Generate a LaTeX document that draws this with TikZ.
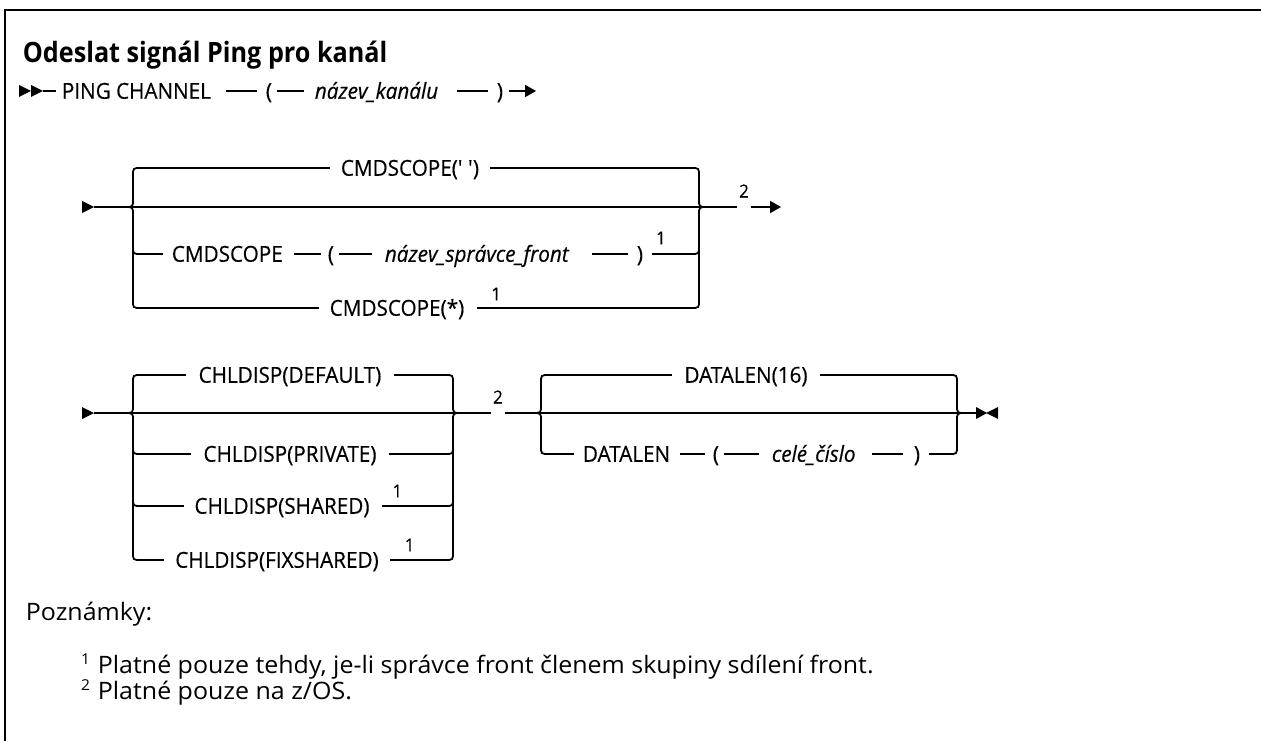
\documentclass[tikz,border=0pt]{standalone}
\usepackage{fontspec}
\setmainfont{Open Sans}
\newfontfamily\cond{Open Sans}[FakeStretch=0.94,FakeBold=0.4]
\newfontfamily\ttl{Open Sans}[FakeStretch=0.9]
\newfontfamily\nte{Open Sans}[FakeStretch=1.04]
\usetikzlibrary{arrows.meta}
\newcommand\rrL[4]{% x, ytop, ymain, ybottom
  \draw (#1-8,#3) .. controls (#1,#3) .. (#1,#3-8) -- (#1,#2+8) .. controls (#1,#2) .. (#1+8,#2);
  \draw (#1-8,#3) .. controls (#1,#3) .. (#1,#3+8) -- (#1,#4-8) .. controls (#1,#4) .. (#1+8,#4);}
\newcommand\rrR[4]{%
  \draw (#1-8,#2) .. controls (#1,#2) .. (#1,#2+8) -- (#1,#3-8) .. controls (#1,#3) .. (#1+8,#3);
  \draw (#1+8,#3) .. controls (#1,#3) .. (#1,#3+8) -- (#1,#4-8) .. controls (#1,#4) .. (#1-8,#4);}
\newcommand\rrLm[2]{\draw (#1,#2-8) .. controls (#1,#2) .. (#1+8,#2);}
\newcommand\rrRm[2]{\draw (#1-8,#2) .. controls (#1,#2) .. (#1,#2-8);}
\begin{document}
\begin{tikzpicture}[x=1pt,y=-1pt,line width=1.8pt,
  kw/.style={font=\cond\fontsize{22}{22}\selectfont,inner sep=0pt,text height=15.5pt,text depth=0pt},
  var/.style={kw,font=\cond\itshape\fontsize{22}{22}\selectfont},
  sup/.style={font=\cond\fontsize{18}{18}\selectfont,inner sep=0pt},
  tip/.style={-{Triangle[length=11pt,width=12pt]}},
  note/.style={font=\nte\fontsize{24}{25}\selectfont,inner sep=0pt,anchor=base west},
  nsup/.style={font=\nte\fontsize{15}{15}\selectfont,inner sep=0pt,anchor=base east}]
\useasboundingbox (0,0) rectangle (1261,741);
% frame
\draw[line width=2.4pt] (5,741) -- (5,10) -- (1261,10);
% title
\node[anchor=base west,inner sep=0pt,font=\ttl\bfseries\fontsize{28}{28}\selectfont] (title) at (22,63) {Odeslat signál Ping pro kanál};
% ---- row 1
\fill (19,85) -- (31,91) -- (19,97) -- cycle;
\fill (31,85) -- (43,91) -- (31,97) -- cycle;
\coordinate (s1) at (43,91);
\node[kw,anchor=west] (pc) at (61,91) {PING CHANNEL};
\node[kw,anchor=west] (lp1) at (265,91) {(};
\node[var,anchor=west] (v1) at (314,91) {název\_kanálu};
\node[kw,anchor=west] (rp1) at (496,91) {)};
\coordinate (e1) at (536,91);
\draw (s1) -- ([xshift=-5pt]pc.west);
\draw ([xshift=14pt]pc.east) -- ([xshift=-8pt]lp1.west);
\draw ([xshift=4pt]lp1.east) -- ([xshift=-10pt]v1.west);
\draw ([xshift=18pt]v1.east) -- ([xshift=-8pt]rp1.west);
\draw[tip] ([xshift=5pt]rp1.east) -- (e1);
% ---- CMDSCOPE group
\fill (82,201) -- (94,207) -- (82,213) -- cycle;
\coordinate (s2) at (94,207);
\coordinate (j2) at (707,207);
\draw (s2) -- (j2);
\rrL{133}{168}{207}{308}
\rrLm{133}{254}
\rrR{699}{168}{207}{308}
\rrRm{699}{254}
\node[kw] (c1) at (410,168) {CMDSCOPE(\textquotesingle{} \textquotesingle)};
\draw (141,168) -- ([xshift=-10pt]c1.west);
\draw ([xshift=10pt]c1.east) -- (691,168);
\node[kw,anchor=west] (c2) at (171,254) {CMDSCOPE};
\node[kw,anchor=west] (lp2) at (327,254) {(};
\node[var,anchor=west] (v2) at (384,254) {název\_správce\_front};
\node[kw,anchor=west] (rp2) at (636,254) {)};
\node[sup] (f2) at (661,238) {1};
\draw (141,254) -- ([xshift=-8pt]c2.west);
\draw ([xshift=10pt]c2.east) -- ([xshift=-6pt]lp2.west);
\draw ([xshift=4pt]lp2.east) -- ([xshift=-12pt]v2.west);
\draw ([xshift=22pt]v2.east) -- ([xshift=-8pt]rp2.west);
\draw ([xshift=8pt]rp2.east) -- (691,254);
\node[kw] (c3) at (397,308) {CMDSCOPE(*)};
\node[sup] (f3) at ([xshift=31pt,yshift=14pt]c3.east) {1};
\draw (141,308) -- ([xshift=-10pt]c3.west);
\draw ([xshift=12pt]c3.east) -- (691,308);
\node[sup] (g2) at (744,191) {2};
\coordinate (e2) at (781,207);
\draw (j2) -- ([xshift=-1pt]g2.west |- j2);
\draw[tip] ([xshift=1pt]g2.east |- j2) -- (e2);
% ---- CHLDISP group
\fill (82,407) -- (94,413) -- (82,419) -- cycle;
\coordinate (s3) at (94,413);
\coordinate (j3) at (461,413);
\draw (s3) -- (j3);
\rrL{133}{375}{413}{560}
\rrLm{133}{454}
\rrLm{133}{506}
\rrR{453}{375}{413}{560}
\rrRm{453}{454}
\rrRm{453}{506}
\node[kw] (d1) at (290,375) {CHLDISP(DEFAULT)};
\draw (141,375) -- ([xshift=-12pt]d1.west);
\draw ([xshift=12pt]d1.east) -- (445,375);
\node[kw] (d2) at (290,454) {CHLDISP(PRIVATE)};
\draw (141,454) -- ([xshift=-12pt]d2.west);
\draw ([xshift=12pt]d2.east) -- (445,454);
\node[kw] (d3) at (282,506) {CHLDISP(SHARED)};
\node[sup] (f4) at ([xshift=27pt,yshift=15pt]d3.east) {1};
\draw (141,506) -- ([xshift=-10pt]d3.west);
\draw ([xshift=12pt]d3.east) -- (445,506);
\node[kw] (d4) at (277,560) {CHLDISP(FIXSHARED)};
\node[sup] (f5) at ([xshift=30pt,yshift=15pt]d4.east) {1};
\draw (141,560) -- ([xshift=-10pt]d4.west);
\draw ([xshift=10pt]d4.east) -- (445,560);
\node[sup] (g3) at (498,397) {2};
\coordinate (s4) at (533,413);
\draw (j3) -- ([xshift=-1pt]g3.west |- j3);
\draw ([xshift=1pt]g3.east |- j3) -- (s4);
% ---- DATALEN group
\coordinate (j4) at (965,413);
\draw (s4) -- (j4);
\draw (s4) .. controls (541,413) .. (541,405) -- (541,383) .. controls (541,375) .. (549,375);
\draw (s4) .. controls (541,413) .. (541,421) -- (541,446) .. controls (541,454) .. (549,454);
\draw (949,375) .. controls (957,375) .. (957,383) -- (957,405) .. controls (957,413) .. (j4);
\draw (949,454) .. controls (957,454) .. (957,446) -- (957,421) .. controls (957,413) .. (j4);
\node[kw] (t1) at (746,375) {DATALEN(16)};
\draw (549,375) -- ([xshift=-12pt]t1.west);
\draw ([xshift=12pt]t1.east) -- (949,375);
\node[kw,anchor=west] (dl) at (582,454) {DATALEN};
\node[kw,anchor=west] (lp3) at (712,454) {(};
\node[var,anchor=west] (v3) at (771,454) {celé\_číslo};
\node[kw,anchor=west] (rp3) at (913,454) {)};
\draw (549,454) -- ([xshift=-8pt]dl.west);
\draw ([xshift=9pt]dl.east) -- ([xshift=-7pt]lp3.west);
\draw ([xshift=4pt]lp3.east) -- ([xshift=-12pt]v3.west);
\draw ([xshift=16pt]v3.east) -- ([xshift=-10pt]rp3.west);
\draw ([xshift=8pt]rp3.east) -- (949,454);
\coordinate (k1) at (976,413);
\draw (j4) -- (k1);
\fill (976,407) -- (987,413) -- (976,419) -- cycle;
\fill (998,407) -- (986,413) -- (998,419) -- cycle;
% ---- notes
\node[note] (pz) at (25,620) {Poznámky:};
\node[note] (n1) at (97,673) {Platné pouze tehdy, je-li správce front členem skupiny sdílení front.};
\node[nsup] (m1) at ([xshift=-6pt,yshift=9pt]n1.base west) {1};
\node[note] (n2) at (97,699) {Platné pouze na z/OS.};
\node[nsup] (m2) at ([xshift=-6pt,yshift=9pt]n2.base west) {2};
\end{tikzpicture}
\end{document}
